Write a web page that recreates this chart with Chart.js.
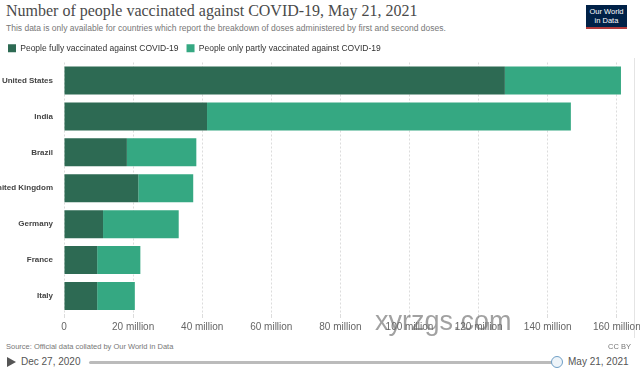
<!DOCTYPE html>
<html>
  <head>
    <title>Vaccinated against COVID-19</title>
    <script src="https://cdn.jsdelivr.net/npm/chart.js"></script>
    <style>
      body,
      html {
        margin: 0;
        width: 640px;
        height: 372px;
        overflow: hidden;
        background-color: white;
        font-family: "Liberation Sans", Arial, sans-serif;
      }
      .abs {
        position: absolute;
        white-space: nowrap;
      }
      #title {
        left: 6px;
        top: 2px;
        font-family: "Liberation Serif", serif;
        font-size: 16px;
        color: #4a4a4a;
      }
      #subtitle {
        left: 6px;
        top: 23px;
        font-size: 8.5px;
        color: #777;
      }
      #logo {
        left: 586px;
        top: 5px;
        width: 41px;
        height: 20px;
        background: #002147;
        border-bottom: 2px solid #b13b3b;
        color: white;
        font-size: 7.5px;
        line-height: 9px;
        text-align: center;
        padding-top: 2px;
      }
      #chartBox {
        position: absolute;
        left: 0;
        top: 36px;
        width: 660px;
        height: 300px;
      }
      #source {
        left: 6px;
        top: 342px;
        font-size: 7.5px;
        color: #777;
      }
      #ccby {
        right: 9px;
        top: 342px;
        font-size: 7.5px;
        color: #777;
      }
      #play {
        left: 7px;
        top: 357px;
        width: 0;
        height: 0;
        border-top: 5px solid transparent;
        border-bottom: 5px solid transparent;
        border-left: 9px solid #555;
      }
      #startDate {
        left: 21px;
        top: 356px;
        font-size: 10px;
        color: #555;
      }
      #endDate {
        left: 568px;
        top: 356px;
        font-size: 10px;
        color: #555;
      }
      #track {
        left: 89px;
        top: 361px;
        width: 464px;
        height: 3px;
        background: #bbb;
        border-radius: 2px;
      }
      #knob {
        left: 551px;
        top: 356px;
        width: 10px;
        height: 10px;
        border-radius: 50%;
        border: 1.5px solid #6f9fc6;
        background: #eef4f9;
      }
      #watermark {
        left: 375px;
        top: 306px;
        font-size: 27px;
        color: rgba(110, 110, 110, 0.65);
      }
      #frame {
        left: 634px;
        top: 58px;
        width: 1px;
        height: 280px;
        background: #e4e4e4;
      }
    </style>
  </head>
  <body>
    <div class="abs" id="title">Number of people vaccinated against COVID-19, May 21, 2021</div>
    <div class="abs" id="subtitle">This data is only available for countries which report the breakdown of doses administered by first and second doses.</div>
    <div class="abs" id="logo">Our World<br />in Data</div>
    <div class="abs" id="frame"></div>
    <div id="chartBox">
      <canvas id="chartCanvas"></canvas>
    </div>
    <div class="abs" id="watermark">xyrzgs.com</div>
    <div class="abs" id="source">Source: Official data collated by Our World in Data</div>
    <div class="abs" id="ccby">CC BY</div>
    <div class="abs" id="play"></div>
    <div class="abs" id="startDate">Dec 27, 2020</div>
    <div class="abs" id="track"></div>
    <div class="abs" id="knob"></div>
    <div class="abs" id="endDate">May 21, 2021</div>
    <script>
      // values (people)
      const countries = ["United States", "India", "Brazil", "United Kingdom", "Germany", "France", "Italy"];
      const fullyVaccinated = [127.6e6, 41.4e6, 18.2e6, 21.5e6, 11.3e6, 9.6e6, 9.6e6];
      const partlyVaccinated = [33.6e6, 105.3e6, 20.1e6, 15.9e6, 21.9e6, 12.5e6, 10.9e6];
      const xTicks = [0, 20e6, 40e6, 60e6, 80e6, 100e6, 120e6, 140e6, 160e6];

      var ctx = document.getElementById("chartCanvas");

      var chart = new Chart(ctx, {
        type: "bar",
        data: {
          labels: countries,
          datasets: [
            {
              label: "People fully vaccinated against COVID-19",
              data: fullyVaccinated,
              backgroundColor: "#2d6a53",
              barPercentage: 0.78,
              categoryPercentage: 1,
            },
            {
              label: "People only partly vaccinated against COVID-19",
              data: partlyVaccinated,
              backgroundColor: "#35a882",
              barPercentage: 0.78,
              categoryPercentage: 1,
            },
          ],
        },
        options: {
          indexAxis: "y",
          animation: false,
          responsive: true,
          maintainAspectRatio: false,
          layout: {
            padding: { left: 0, right: 38, top: 0, bottom: 0 },
          },
          scales: {
            x: {
              stacked: true,
              min: 0,
              max: 161.5e6,
              afterBuildTicks: function (scale) {
                scale.ticks = xTicks.map((v) => ({ value: v }));
              },
              grid: {
                color: "#dcdcdc",
                tickLength: 4,
              },
              border: {
                display: false,
                dash: [2, 2],
              },
              ticks: {
                color: "#666",
                font: { size: 10, family: "Liberation Sans" },
                padding: 3,
                maxRotation: 0,
                autoSkip: false,
                callback: function (v) {
                  return v === 0 ? "0" : v / 1e6 + " million";
                },
              },
            },
            y: {
              stacked: true,
              grid: { display: false },
              border: { display: false },
              afterFit: function (scale) {
                scale.width = 64;
              },
              ticks: {
                color: "#444",
                padding: 3,
                font: { size: 8, weight: "bold", family: "Liberation Sans" },
              },
            },
          },
          plugins: {
            tooltip: { enabled: false },
            legend: {
              position: "top",
              align: "start",
              labels: {
                color: "#333",
                boxWidth: 8,
                boxHeight: 8,
                padding: 8,
                font: { size: 8.5, family: "Liberation Sans" },
              },
            },
          },
        },
      });
    </script>
  </body>
</html>
